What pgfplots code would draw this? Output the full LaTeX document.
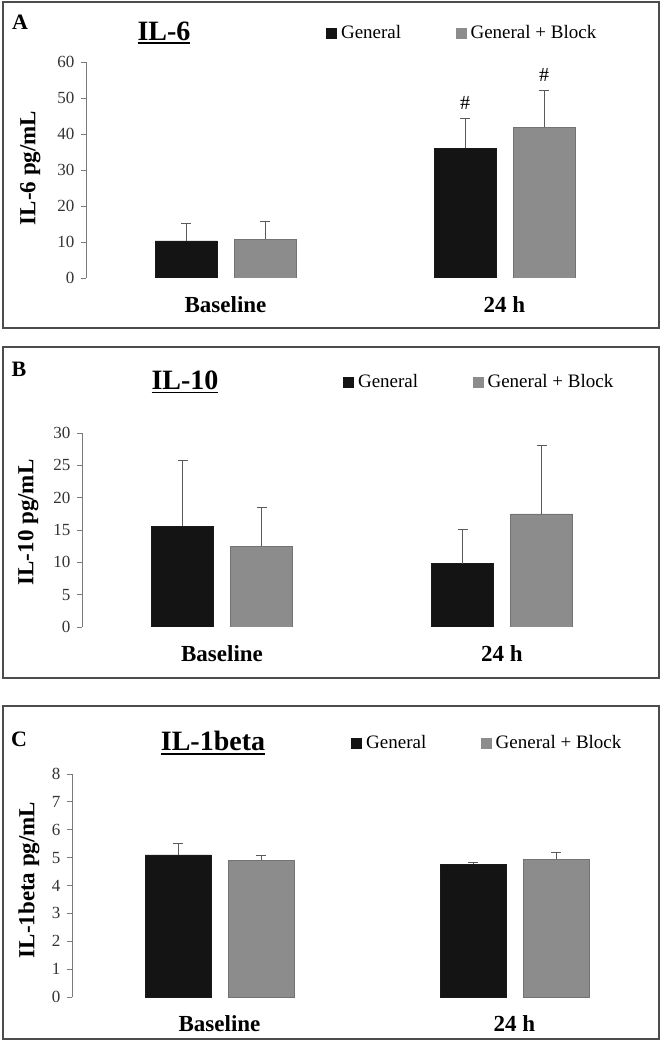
\documentclass[border=0pt]{standalone}
\usepackage{fontspec}
\setmainfont{Liberation Serif}
\usepackage{pgfplots}
\pgfplotsset{compat=1.18}

\definecolor{genblack}{HTML}{141414}
\definecolor{gengray}{HTML}{8C8C8C}
\definecolor{errgray}{HTML}{5A5A5A}
\definecolor{axgray}{HTML}{7A7A7A}

% bold underlined panel title
\newcommand\ul[1]{\setbox0\hbox{#1}\rlap{\rule[-4pt]{\wd0}{1.8pt}}\box0}

\pgfplotsset{
  panel/.style={
    scale only axis, anchor=south west,
    ybar=17pt, bar width=62pt,
    ymin=0, xmin=-0.5, xmax=1.5,
    xtick={0,1}, xticklabels={Baseline,24 h},
    axis x line*=bottom, axis y line*=left,
    x axis line style={draw=none},
    y axis line style={axgray, line width=0.9pt},
    xtick style={draw=none},
    ytick style={axgray, line width=0.9pt},
    tick align=outside, major tick length=5pt,
    tick label style={font=\fontsize{17}{19}\selectfont, text=black!80},
    yticklabel style={xshift=-3pt},
    xticklabel style={font=\fontsize{23}{26}\selectfont\bfseries, text=black, yshift=-10pt},
    /pgf/number format/assume math mode=true,
    ylabel style={font=\fontsize{23}{26}\selectfont\bfseries, anchor=center},
    legend columns=2,
    legend style={draw=none, fill=none, anchor=west, font=\fontsize{19}{22}\selectfont,
      inner sep=0pt, nodes={inner sep=1.5pt},
      /tikz/every even column/.append style={column sep=53pt}},
    error bars/y dir=plus, error bars/y explicit,
    error bars/error bar style={errgray, line width=1pt},
    error bars/error mark options={errgray, rotate=90, mark size=5pt, line width=1pt},
  },
  gen/.style={fill=genblack, draw=black!90,
    legend image code/.code={\fill[genblack] (0pt,-5pt) rectangle (10pt,5pt); \path (13pt,0pt);}},
  blk/.style={fill=gengray, draw=black!55,
    legend image code/.code={\fill[gengray] (0pt,-5pt) rectangle (10pt,5pt); \path (13pt,0pt);}},
}

\begin{document}
\begin{tikzpicture}
\useasboundingbox (0pt,0pt) rectangle (666pt,1042pt);

% panel frames
\draw[black!70, line width=1.2pt] (3pt,1040pt) rectangle (659pt,714pt);
\draw[black!70, line width=1.2pt] (3pt,695pt) rectangle (659pt,364pt);
\draw[black!70, line width=1.2pt] (3pt,336pt) rectangle (659pt,3pt);

% panel letters and titles
\node[font=\fontsize{22}{24}\selectfont\bfseries] at (20pt,1020pt) {A};
\node[font=\fontsize{22}{24}\selectfont\bfseries] at (19pt,673pt) {B};
\node[font=\fontsize{22}{24}\selectfont\bfseries] at (19pt,303pt) {C};
\node[font=\fontsize{28}{30}\selectfont\bfseries] at (164pt,1009pt) {\ul{IL-6}};
\node[font=\fontsize{28}{30}\selectfont\bfseries] at (185pt,660pt) {\ul{IL-10}};
\node[font=\fontsize{28}{30}\selectfont\bfseries] at (213pt,299pt) {\ul{IL-1beta}};

% A: IL-6
\begin{axis}[panel, at={(86pt,764pt)}, width=558pt, height=216pt,
  ymax=60, ytick={0,10,...,60},
  ylabel={IL-6 pg/mL}, ylabel style={at={(axis description cs:-0.100,0.51)}},
  legend style={at={(axis description cs:0.430,1.134)}}]
\addplot[gen] coordinates {(0,10.3) +- (0,4.7) (1,36.1) +- (0,8.2)};
\addlegendentry{General}
\addplot[blk] coordinates {(0,10.8) +- (0,4.8) (1,41.9) +- (0,10.2)};
\addlegendentry{General + Block}
\node[font=\fontsize{20}{22}\selectfont, xshift=-39.5pt] at (axis cs:1,48.6) {\#};
\node[font=\fontsize{20}{22}\selectfont, xshift=39.5pt] at (axis cs:1,56.4) {\#};
\end{axis}

% B: IL-10
\begin{axis}[panel, at={(82pt,415pt)}, width=560pt, height=194pt,
  ymax=30, ytick={0,5,...,30},
  ylabel={IL-10 pg/mL}, ylabel style={at={(axis description cs:-0.096,0.539)}},
  legend style={at={(axis description cs:0.466,1.263)}}]
\addplot[gen] coordinates {(0,15.6) +- (0,10.1) (1,9.8) +- (0,5.3)};
\addlegendentry{General}
\addplot[blk] coordinates {(0,12.5) +- (0,6.0) (1,17.5) +- (0,10.5)};
\addlegendentry{General + Block}
\end{axis}

% C: IL-1beta
\begin{axis}[panel, at={(72pt,45pt)}, width=590pt, height=223pt,
  bar width=66pt,
  ymax=8, ytick={0,1,...,8},
  ylabel={IL-1beta pg/mL}, ylabel style={at={(axis description cs:-0.073,0.525)}},
  legend style={at={(axis description cs:0.473,1.139)}}]
\addplot[gen] coordinates {(0,5.1) +- (0,0.4) (1,4.77) +- (0,0.05)};
\addlegendentry{General}
\addplot[blk] coordinates {(0,4.9) +- (0,0.17) (1,4.95) +- (0,0.25)};
\addlegendentry{General + Block}
\end{axis}
\end{tikzpicture}
\end{document}
